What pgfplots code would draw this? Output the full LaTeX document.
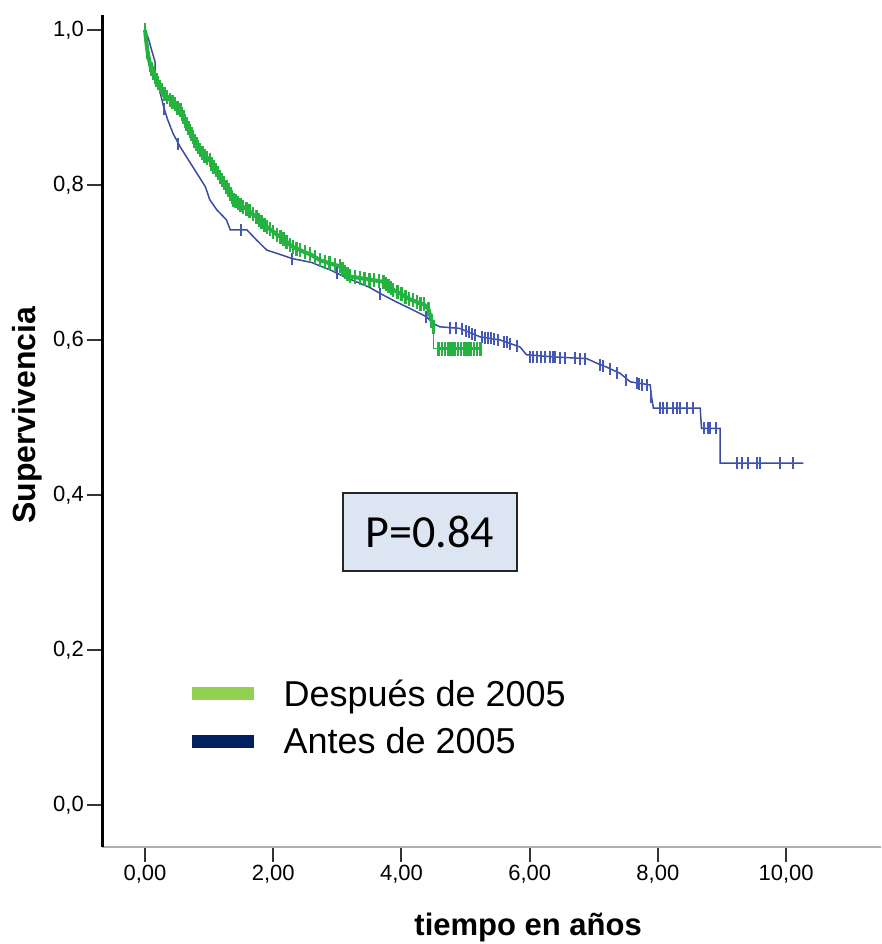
\documentclass[border=0pt]{standalone}
\usepackage{pgfplots}
\pgfplotsset{compat=1.18}
\usepackage{fontspec}
\setmainfont{Liberation Sans}
\newfontfamily\pfont{Carlito}

\definecolor{kmgreen}{RGB}{36,178,64}
\definecolor{kmblue}{RGB}{58,76,158}
\definecolor{kmbluemark}{RGB}{68,88,186}
\definecolor{leggreen}{RGB}{146,208,80}
\definecolor{legnavy}{RGB}{0,32,96}
\definecolor{pbox}{RGB}{220,230,242}
\definecolor{xaxisgray}{RGB}{175,175,175}

\begin{document}
\begin{tikzpicture}
\begin{axis}[
  at={(102pt,97pt)}, anchor=south west,
  width=779pt, height=832pt, scale only axis,
  xmin=-0.671, xmax=11.48,
  ymin=-0.0542, ymax=1.0194,
  axis x line*=bottom, axis y line*=left,
  x axis line style={-, draw=xaxisgray, line width=2.5pt},
  y axis line style={-, draw=black, line width=3pt},
  xtick={0,2,4,6,8,10},
  xticklabels={{0,00},{2,00},{4,00},{6,00},{8,00},{10,00}},
  ytick={0,0.2,0.4,0.6,0.8,1},
  yticklabels={{0,0},{0,2},{0,4},{0,6},{0,8},{1,0}},
  tick align=outside, major tick length=15pt,
  tick style={line width=2pt, black!80},
  xticklabel style={font=\fontsize{22pt}{24pt}\selectfont, inner sep=3pt},
  yticklabel style={font=\fontsize{22pt}{24pt}\selectfont, inner sep=3pt},
  every axis y label/.style={at={(axis description cs:-0.0963,0.519)}, rotate=90, anchor=center,
    font=\fontsize{32pt}{36pt}\selectfont\bfseries},
  every axis x label/.style={at={(axis description cs:0.547,-0.1058)}, anchor=base,
    font=\fontsize{31pt}{36pt}\selectfont\bfseries},
  ylabel={Supervivencia},
  xlabel={tiempo en años},
  legend style={at={(axis description cs:0.1155,0.1999)}, anchor=north west,
    draw=none, fill=none, inner sep=0pt, row sep=13pt,
    font=\fontsize{36pt}{40pt}\selectfont,
    nodes={inner sep=0pt, text height=26pt, text depth=8pt}},
  legend cell align=left,
]

% Antes de 2005
\addplot[kmblue, line width=1.5pt, forget plot] coordinates {
(0,1.0) (0.05,0.99) (0.10,0.975) (0.156,0.959) (0.16,0.94) (0.22,0.925)
(0.29,0.901) (0.35,0.885) (0.44,0.866) (0.55,0.849) (0.68,0.832) (0.81,0.815)
(0.94,0.798) (1.01,0.781) (1.12,0.768) (1.27,0.755) (1.33,0.742) (1.59,0.742)
(1.74,0.729) (1.90,0.716) (2.05,0.712) (2.30,0.705) (2.60,0.700) (2.90,0.690)
(3.10,0.682) (3.30,0.675) (3.50,0.668) (3.67,0.660) (3.90,0.650) (4.10,0.642)
(4.39,0.630) (4.50,0.621) (4.60,0.617) (4.91,0.615) (5.23,0.604) (5.54,0.600)
(5.85,0.591) (5.95,0.581) (6.40,0.578) (6.89,0.576) (7.05,0.570) (7.20,0.565)
(7.41,0.557) (7.57,0.546) (7.88,0.542) (7.90,0.527) (7.93,0.512) (8.66,0.512)
(8.68,0.486) (8.97,0.486) (8.97,0.441) (10.27,0.441)
};
\addplot[only marks, mark=|, mark size=6pt, kmbluemark, mark options={line width=2pt}, forget plot] coordinates {
(0,1.0) (0.30,0.898) (0.52,0.853) (1.50,0.742) (2.30,0.705) (3.00,0.686) (3.67,0.660)
(4.39,0.630) (4.75,0.616) (4.85,0.615) (4.95,0.614) (5.00,0.612) (5.05,0.610) (5.10,0.608)
(5.15,0.606) (5.25,0.604) (5.30,0.603) (5.35,0.602)
(5.40,0.602) (5.45,0.601) (5.50,0.600) (5.60,0.598) (5.65,0.597) (5.70,0.595) (5.80,0.592)
(6.01,0.578) (6.05,0.578) (6.11,0.578) (6.18,0.578) (6.24,0.578) (6.32,0.578) (6.36,0.578)
(6.40,0.578) (6.47,0.577) (6.55,0.577) (6.71,0.577) (6.79,0.576) (6.86,0.576)
(7.10,0.568) (7.15,0.567) (7.25,0.562) (7.36,0.558) (7.51,0.548) (7.67,0.544) (7.71,0.543)
(7.75,0.542) (7.83,0.542)
(7.90,0.527) (8.03,0.512) (8.08,0.512) (8.14,0.512) (8.24,0.512) (8.30,0.512) (8.35,0.512)
(8.45,0.512) (8.55,0.512)
(8.72,0.486) (8.78,0.486) (8.81,0.486) (8.90,0.486)
(9.23,0.441) (9.31,0.441) (9.41,0.441) (9.54,0.441) (9.59,0.441) (9.91,0.441) (10.11,0.441)
};

% Despues de 2005
\addplot[kmgreen, line width=4pt, mark=|, mark size=7pt, mark options={line width=2.5pt}, forget plot] coordinates {
(0,1.0) (0.02,0.985) (0.04,0.972) (0.06,0.963) (0.08,0.955) (0.10,0.950)
(0.13,0.944) (0.155,0.939) (0.18,0.935) (0.205,0.931) (0.23,0.927) (0.265,0.922)
(0.30,0.918) (0.345,0.914) (0.39,0.910) (0.43,0.907) (0.47,0.904) (0.51,0.900)
(0.55,0.897) (0.575,0.892) (0.60,0.888) (0.625,0.883) (0.65,0.879) (0.675,0.874)
(0.70,0.870) (0.725,0.866) (0.75,0.862) (0.775,0.857) (0.80,0.853) (0.83,0.849)
(0.86,0.845) (0.895,0.841) (0.93,0.838) (0.97,0.835) (1.01,0.832) (1.04,0.827)
(1.07,0.823) (1.105,0.819) (1.14,0.815) (1.17,0.810) (1.20,0.806) (1.235,0.802)
(1.27,0.798) (1.30,0.793) (1.33,0.789) (1.355,0.785) (1.38,0.781) (1.415,0.779)
(1.45,0.777) (1.49,0.774) (1.53,0.772) (1.58,0.769) (1.63,0.766) (1.685,0.762)
(1.74,0.759) (1.78,0.755) (1.82,0.752) (1.86,0.749) (1.90,0.746) (1.95,0.743)
(2.00,0.740) (2.055,0.736) (2.11,0.733) (2.16,0.730) (2.21,0.727) (2.26,0.723)
(2.31,0.720) (2.365,0.718) (2.42,0.716) (2.495,0.713) (2.57,0.711) (2.65,0.707)
(2.73,0.703) (2.805,0.701) (2.88,0.699) (2.96,0.697) (3.04,0.695) (3.08,0.691)
(3.12,0.688) (3.16,0.685) (3.20,0.682) (3.275,0.681) (3.35,0.680) (3.425,0.679)
(3.50,0.678) (3.575,0.677) (3.65,0.676) (3.72,0.675) (3.76,0.672) (3.80,0.670)
(3.835,0.667) (3.87,0.665) (3.935,0.662) (4.00,0.659) (4.06,0.656) (4.12,0.653)
(4.18,0.651) (4.24,0.649) (4.30,0.647) (4.35,0.646) (4.42,0.640) (4.47,0.625)
(4.50,0.617)
};
\addplot[kmgreen, line width=1.5pt, forget plot] coordinates {
(4.50,0.617) (4.50,0.589) (4.58,0.589)
};
\addplot[kmgreen, line width=3pt, mark=|, mark size=7pt, mark options={line width=2.5pt}, forget plot] coordinates {
(4.58,0.589) (4.63,0.589) (4.68,0.589) (4.73,0.589)
(4.78,0.589) (4.83,0.589) (4.88,0.589) (4.93,0.589) (4.98,0.589) (5.03,0.589)
(5.08,0.589) (5.13,0.589) (5.18,0.589) (5.23,0.589)
};

\addlegendimage{no markers, legend image code/.code={\fill[leggreen] (0pt,-1pt) rectangle (61pt,11pt); \path (91pt,0pt);}}
\addlegendentry{Después de 2005}
\addlegendimage{no markers, legend image code/.code={\fill[legnavy] (0pt,-2pt) rectangle (61pt,10pt); \path (91pt,0pt);}}
\addlegendentry{Antes de 2005}

\node[draw=black!85, line width=1.5pt, fill=pbox, minimum width=174pt, minimum height=78pt,
  inner sep=0pt, font=\pfont\fontsize{46pt}{50pt}\selectfont] at (rel axis cs:0.421,0.3786) {P=0.84};
\end{axis}
\pgfresetboundingbox
\path[use as bounding box] (0,0) rectangle (881pt,944pt);
\end{tikzpicture}
\end{document}
